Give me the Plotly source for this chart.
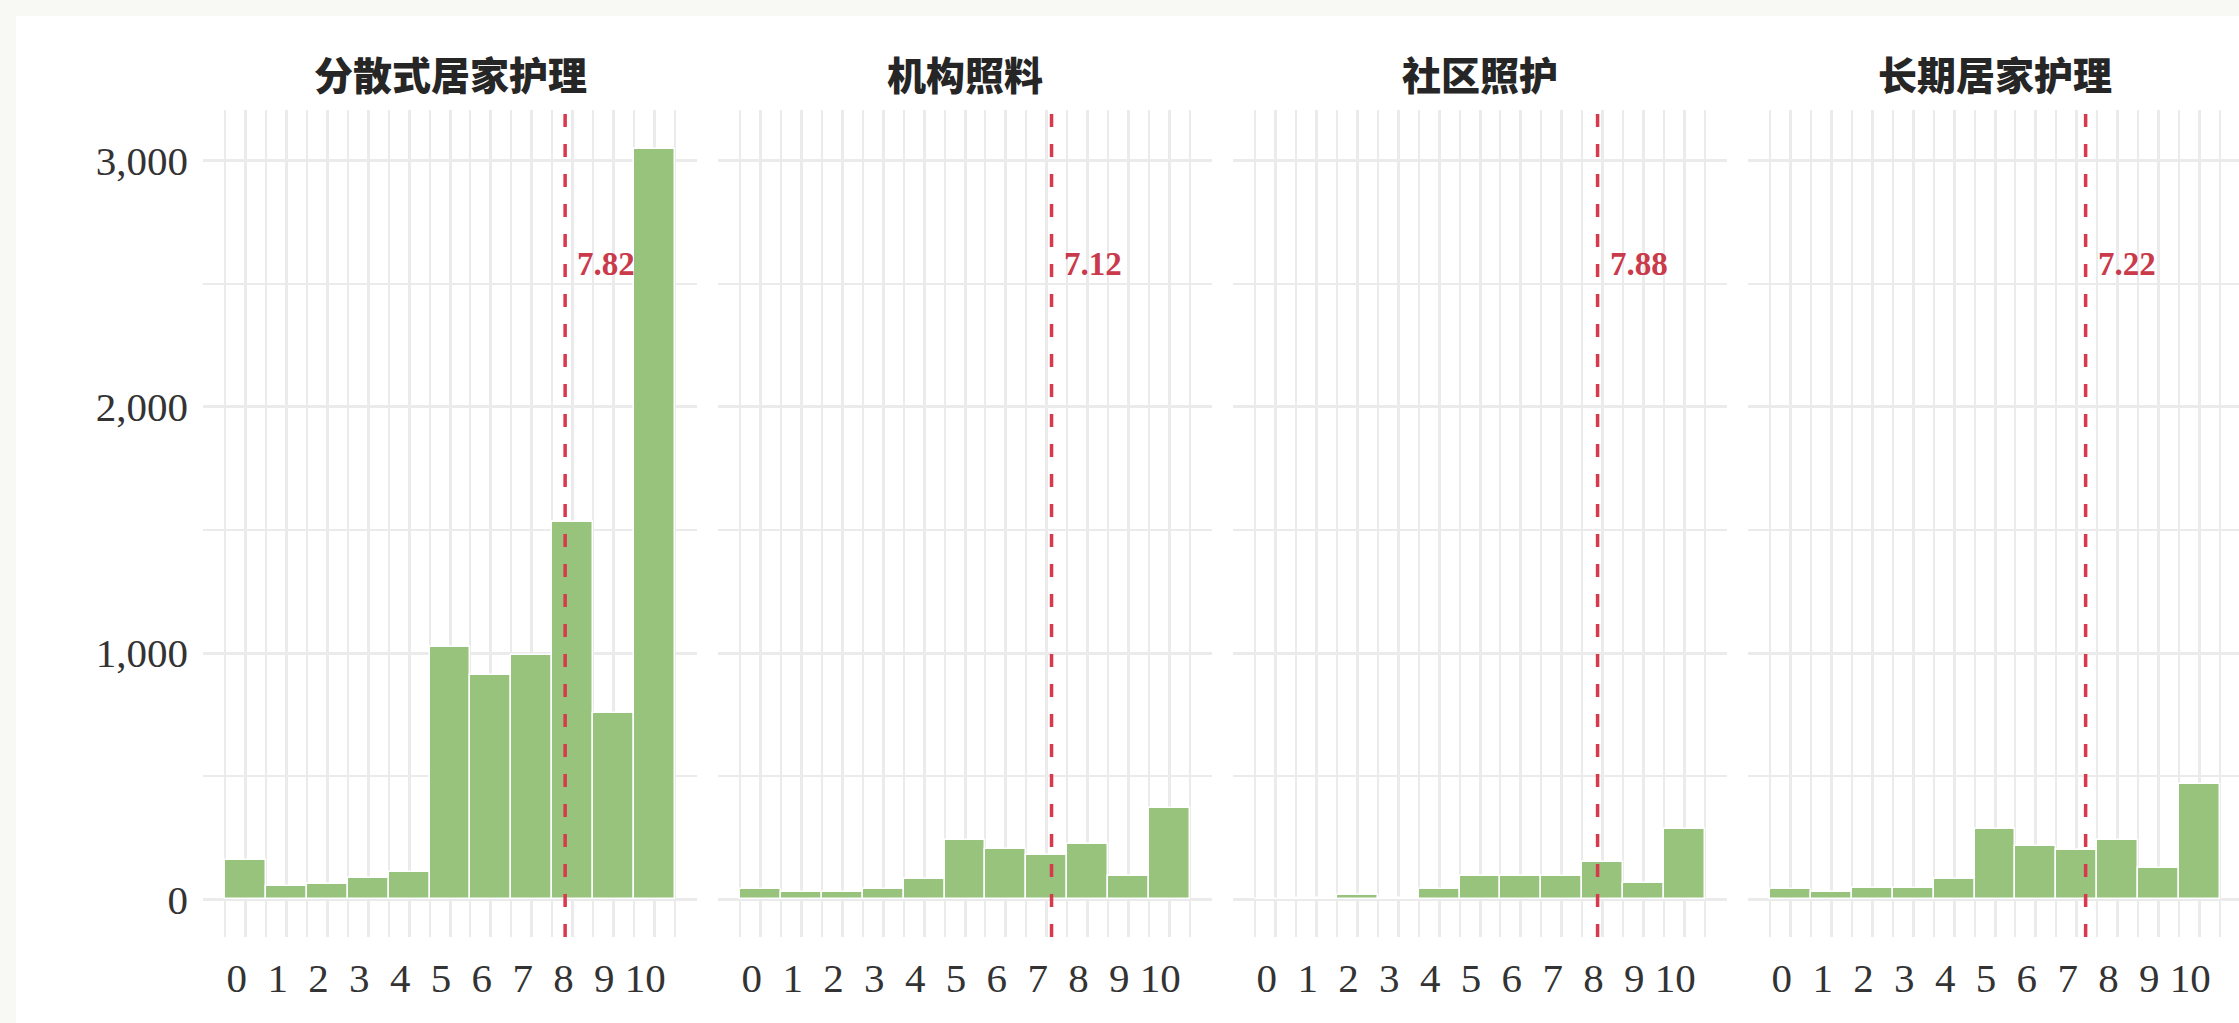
import plotly.graph_objects as go

# ---- data ----
panels = ["分散式居家护理", "机构照料", "社区照护", "长期居家护理"]
scores = [0, 1, 2, 3, 4, 5, 6, 7, 8, 9, 10]
counts_home_dispersed = [159, 53, 64, 88, 109, 1023, 909, 994, 1531, 755, 3045]
counts_institution = [43, 31, 31, 43, 81, 240, 203, 178, 226, 94, 372]
counts_community = [3, 4, 18, 6, 43, 94, 94, 94, 151, 68, 285]
counts_home_longterm = [43, 31, 46, 46, 81, 286, 215, 201, 239, 126, 469]
means = [7.82, 7.12, 7.88, 7.22]
mean_labels = ["7.82", "7.12", "7.88", "7.22"]
y_tick_vals = [0, 1000, 2000, 3000]
y_tick_text = ["0", "1,000", "2,000", "3,000"]
x_tick_text = [str(s) for s in scores]

all_counts = [counts_home_dispersed, counts_institution, counts_community, counts_home_longterm]

# ---- layout constants ----
W, H = 2239, 1023
panel_left = [203, 718, 1233, 1748]
panel_w = 494
plot_top, plot_bottom = 110, 937
xr = [-1.05, 11.05]
yr = [-153, 3205]

BAR = "#97c37c"
GRID = "#ebebeb"
RED = "#d8394c"
SERIF = "Liberation Serif"
CJK = "Noto Sans CJK SC"

fig = go.Figure()
ydom = [1 - plot_bottom / H, 1 - plot_top / H]

for i, (name, counts) in enumerate(zip(panels, all_counts)):
    k = "" if i == 0 else str(i + 1)
    x0 = panel_left[i]
    x1 = x0 + panel_w
    rng = list(xr)
    if x1 > W:
        rng[1] = xr[0] + (xr[1] - xr[0]) * (W - x0) / panel_w
        x1 = W
    fig.add_trace(go.Bar(
        x=scores, y=counts, width=1,
        marker=dict(color=BAR, line=dict(color="white", width=1.5)),
        xaxis="x" + k, yaxis="y" + k, showlegend=False, hoverinfo="x+y",
    ))
    fig.update_layout({
        "xaxis" + k: dict(
            domain=[x0 / W, x1 / W], range=rng, anchor="y" + k,
            tickmode="array", tickvals=scores, ticktext=x_tick_text,
            showgrid=True, gridcolor=GRID, gridwidth=3,
            minor=dict(tickmode="array", tickvals=[s - 0.5 for s in scores] + [10.5],
                       showgrid=True, gridcolor=GRID, gridwidth=2),
            zeroline=False, showline=False, ticks="",
            tickfont=dict(family=SERIF, size=41, color="#333333"),
            ticklabelstandoff=13, ticklabelshift=-9, fixedrange=True,
        ),
        "yaxis" + k: dict(
            domain=ydom, range=yr, anchor="x" + k,
            tickmode="array", tickvals=y_tick_vals, ticktext=y_tick_text,
            showticklabels=(i == 0),
            showgrid=True, gridcolor=GRID, gridwidth=3,
            minor=dict(tickmode="array", tickvals=[500, 1500, 2500],
                       showgrid=True, gridcolor=GRID, gridwidth=2),
            zeroline=False, showline=False, ticks="",
            tickfont=dict(family=SERIF, size=41, color="#333333"),
            ticklabelstandoff=14, fixedrange=True,
        ),
    })
    # mean line
    fig.add_shape(type="line", xref="x" + k, yref="y" + k + " domain",
                  x0=means[i], x1=means[i], y0=0, y1=1, layer="above",
                  line=dict(color=RED, width=3.5, dash="13px,17px"))
    fig.add_annotation(xref="x" + k, yref="y" + k, x=means[i], y=2580,
                       text="<b>" + mean_labels[i] + "</b>", showarrow=False,
                       xanchor="left", yanchor="middle", xshift=10,
                       font=dict(family=SERIF, size=33, color="#c93a4b"))
    # facet title
    fig.add_annotation(xref="paper", yref="paper",
                       x=(panel_left[i] + panel_w / 2) / W, y=1 - 73 / H,
                       text=name, showarrow=False,
                       xanchor="center", yanchor="middle",
                       font=dict(family=CJK, size=39, color="#262626", weight=900))

# white canvas inside an off-white frame
fig.add_shape(type="rect", xref="paper", yref="paper",
              x0=16 / W, x1=1, y0=0, y1=1 - 16 / H,
              fillcolor="white", line=dict(width=0), layer="below")

fig.update_layout(
    width=W, height=H, autosize=False,
    margin=dict(l=0, r=0, t=0, b=0, pad=0),
    paper_bgcolor="#f8f9f4", plot_bgcolor="rgba(0,0,0,0)",
    bargap=0, showlegend=False,
)

fig.write_html("out.html", config={"displayModeBar": False},
               post_script="document.body.style.margin='0';document.body.style.overflow='hidden';")
